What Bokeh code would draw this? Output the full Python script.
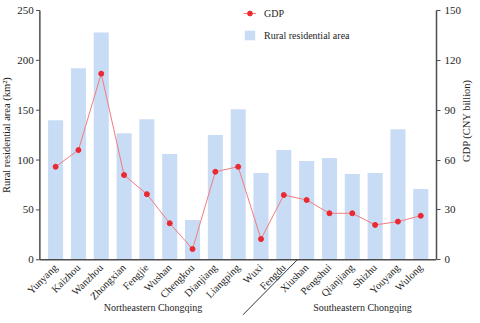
import math
from bokeh.plotting import figure
from bokeh.models import (ColumnDataSource, Range1d, LinearAxis, FixedTicker, Legend,
                          LegendItem)
from bokeh.core.properties import value
from bokeh.embed import file_html
from bokeh.resources import INLINE

counties = ["Yunyang", "Kaizhou", "Wanzhou", "Zhongxian", "Fengjie", "Wushan", "Chengkou",
            "Dianjiang", "Liangping", "Wuxi", "Fengdu", "Xiushan", "Pengshui", "Qianjiang",
            "Shizhu", "Youyang", "Wulong"]
area = [140, 192, 228, 127, 141, 106, 40, 125, 151, 87, 110, 99, 102, 86, 87, 131, 71]
gdp = [56, 66, 112, 51, 39.5, 22, 6.5, 53, 56, 12.5, 39, 36, 28, 28, 21, 23, 26.5]
groups = ["Northeastern Chongqing", "Southeastern Chongqing"]
group_pos = [4.27, 13.45]
area_ticks = [0, 50, 100, 150, 200, 250]
gdp_ticks = [0, 30, 60, 90, 120, 150]

FONT = "Liberation Serif"
AXC = "#4d4d4d"
TXT = "#1e1e1e"
PAD = 0.69          # category padding at both ends
AX_X = -PAD         # data x of the left axis line
TICK = 0.17         # tick length in category units (~4px)

n = len(counties)
idx = list(range(n))
src = ColumnDataSource(dict(x=idx, area=area, gdp=gdp, name=counties, y0=[0] * n))

p = figure(width=480, height=323, output_backend="svg", toolbar_location=None,
           x_range=Range1d(-2.415, n - 1 + PAD), y_range=Range1d(-63.9, 260.0),
           min_border_left=0, min_border_right=37, min_border_top=0, min_border_bottom=0)
p.extra_y_ranges = {"gdp": Range1d(-38.3, 156.0)}
p.outline_line_color = None
p.grid.grid_line_color = None
p.xaxis.visible = False
p.yaxis.visible = False

bars = p.vbar(x="x", top="area", width=0.66, source=src, fill_color="#c8dcf6",
              line_color=None)
ln = p.line(x="x", y="gdp", source=src, y_range_name="gdp", line_color="#f47c7c",
            line_width=1)
pts = p.scatter(x="x", y="gdp", source=src, y_range_name="gdp", size=5,
                fill_color="#ea2a32", line_color="#ea2a32")

# bottom axis line and category labels
p.segment(x0=[AX_X], y0=[0], x1=[n - 1 + PAD], y1=[0], line_color=AXC, line_width=1.5)
p.text(x="x", y="y0", text="name", source=src, angle=math.pi / 4,
       text_align="right", text_baseline="middle", x_offset=0, y_offset=6,
       text_font=value(FONT), text_font_size="10.5px", text_color=TXT)

# left axis drawn in data space
p.segment(x0=[AX_X], y0=[area_ticks[0]], x1=[AX_X], y1=[area_ticks[-1]],
          line_color=AXC, line_width=1.5)
p.segment(x0=[AX_X] * len(area_ticks), y0=area_ticks,
          x1=[AX_X - TICK] * len(area_ticks), y1=area_ticks, line_color=AXC, line_width=1)
p.text(x=[AX_X] * len(area_ticks), y=area_ticks, text=[str(t) for t in area_ticks],
       text_align="right", text_baseline="middle", x_offset=-6,
       text_font=value(FONT), text_font_size="11px", text_color=TXT)
p.text(x=[AX_X], y=[(area_ticks[0] + area_ticks[-1]) / 2],
       text=["Rural residential area (km²)"], angle=math.pi / 2, text_align="center",
       text_baseline="middle", x_offset=-33,
       text_font=value(FONT), text_font_size="10.5px", text_color=TXT)

# group labels and separator
p.text(x=group_pos, y=[-47.8, -47.8], text=groups, text_align="center",
       text_baseline="middle", text_font=value(FONT), text_font_size="10px",
       text_color=TXT)
p.segment(x0=[10.59], y0=[0], x1=[8.21], y1=[-55.2], line_color="#333333", line_width=1)

# right axis
ra = LinearAxis(y_range_name="gdp", ticker=FixedTicker(ticks=gdp_ticks),
                axis_label="GDP (CNY billion)", bounds=(gdp_ticks[0], gdp_ticks[-1]))
p.add_layout(ra, "right")
ra.axis_line_color = AXC
ra.axis_line_width = 1.5
ra.major_tick_line_color = AXC
ra.major_tick_out = 4
ra.major_tick_in = 0
ra.minor_tick_out = 0
ra.minor_tick_in = 0
ra.major_label_text_font = FONT
ra.major_label_text_font_size = "11px"
ra.major_label_text_color = TXT
ra.major_label_standoff = 4
ra.axis_label_text_font = FONT
ra.axis_label_text_font_size = "10.5px"
ra.axis_label_text_font_style = "normal"
ra.axis_label_text_color = TXT
ra.axis_label_standoff = 2
ra.axis_label_orientation = math.pi / 2

# legend
legend = Legend(items=[LegendItem(label="GDP", renderers=[ln, pts]),
                       LegendItem(label="Rural residential area", renderers=[bars])],
                location=(243, 282), border_line_color=None, background_fill_alpha=0,
                label_text_font=FONT, label_text_font_size="10px", label_text_color=TXT,
                glyph_width=13, glyph_height=12, label_height=12, spacing=10,
                padding=0, margin=0, label_standoff=8)
p.add_layout(legend)

open("out.html", "w").write(file_html(p, INLINE))
